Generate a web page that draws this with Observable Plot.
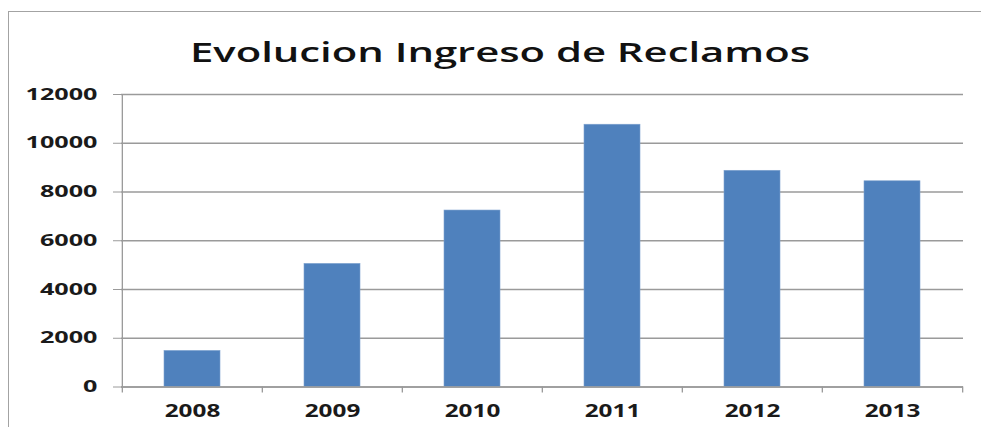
<!DOCTYPE html>
<html>
<head>
<meta charset="utf-8">
<script src="https://cdn.jsdelivr.net/npm/d3@7"></script>
<script src="https://cdn.jsdelivr.net/npm/@observablehq/plot@0.6"></script>
<style>
  html, body { margin: 0; background: #fff; width: 982px; height: 428px; overflow: hidden; }
  body { position: relative; }
  #frame { position: absolute; left: 8px; top: 11px; width: 972px; height: 415px;
           border-top: 1.5px solid #a3a3a3; border-left: 1.5px solid #a3a3a3; pointer-events: none; }
  svg { display: block; }
</style>
</head>
<body>
<div id="frame"></div>
<script>
const chartTitle = "Evolucion Ingreso de Reclamos";
const years = ["2008", "2009", "2010", "2011", "2012", "2013"];
const reclamos = [1480, 5050, 7240, 10760, 8870, 8440];
const yTicks = [0, 2000, 4000, 6000, 8000, 10000, 12000];

const data = years.map((year, i) => ({year, value: reclamos[i]}));

// Title (stretched like the reference)
const ns = "http://www.w3.org/2000/svg";
const tsvg = document.createElementNS(ns, "svg");
tsvg.setAttribute("id", "title");
tsvg.setAttribute("width", 982);
tsvg.setAttribute("height", 70);
const tt = document.createElementNS(ns, "text");
tt.setAttribute("x", 500);
tt.setAttribute("y", 62);
tt.setAttribute("text-anchor", "middle");
tt.setAttribute("font-family", "'Open Sans', sans-serif");
tt.setAttribute("font-weight", "600");
tt.setAttribute("font-size", "27");
tt.setAttribute("fill", "#111");
tt.setAttribute("textLength", 620);
tt.setAttribute("lengthAdjust", "spacingAndGlyphs");
tt.textContent = chartTitle;
tsvg.appendChild(tt);
document.body.appendChild(tsvg);

const W = 982, H = 358, mL = 121, mR = 19, mT = 24, mB = 41.5;
const step = (W - mL - mR) / years.length;
const grey = "#9a9a9a";

const plot = Plot.plot({
  width: W, height: H,
  marginLeft: mL, marginRight: mR, marginTop: mT, marginBottom: mB,
  style: {fontFamily: "'Open Sans', sans-serif", color: "#1a1a1a", background: "transparent"},
  x: {domain: years, paddingInner: 0.6, paddingOuter: 0.3, label: null},
  y: {domain: [0, 12000], label: null},
  marks: [
    Plot.gridY(yTicks, {stroke: grey, strokeOpacity: 1, strokeWidth: 1.3}),
    Plot.barY(data, {x: "year", y: "value", fill: "#4f81bd", stroke: "#7ea2cf", strokeWidth: 0.6}),
    Plot.ruleY([0], {stroke: grey, strokeWidth: 1.3}),
    Plot.ruleX(data.slice(0, 1), {x: "year", y1: 12000, y2: 0, insetBottom: -6, dx: -step / 2, stroke: grey, strokeWidth: 1.3}),
    Plot.ruleX(data.slice(1), {x: "year", y1: 0, y2: 0, insetBottom: -6, dx: -step / 2, stroke: grey, strokeWidth: 1.3}),
    Plot.ruleX(data.slice(-1), {x: "year", y1: 0, y2: 0, insetBottom: -6, dx: step / 2, stroke: grey, strokeWidth: 1.3}),
    Plot.axisY({ticks: yTicks, tickSize: 8, tickPadding: 16, stroke: grey, fill: "#1a1a1a",
                fontWeight: "bold", fontSize: 16, label: null, tickFormat: d => String(d)}),
    Plot.axisX({tickSize: 0, tickPadding: 17.5, fill: "#1a1a1a", fontWeight: "bold", fontSize: 17, label: null})
  ]
});
document.body.appendChild(plot);

// stretch tick labels horizontally like the reference
plot.querySelectorAll('[aria-label="y-axis tick label"] text').forEach(t => {
  t.setAttribute("textLength", t.textContent.length * 14.4);
  t.setAttribute("lengthAdjust", "spacingAndGlyphs");
});
plot.querySelectorAll('[aria-label="x-axis tick label"] text').forEach(t => {
  t.setAttribute("textLength", t.textContent.length * 13.9);
  t.setAttribute("lengthAdjust", "spacingAndGlyphs");
});
</script>
</body>
</html>
